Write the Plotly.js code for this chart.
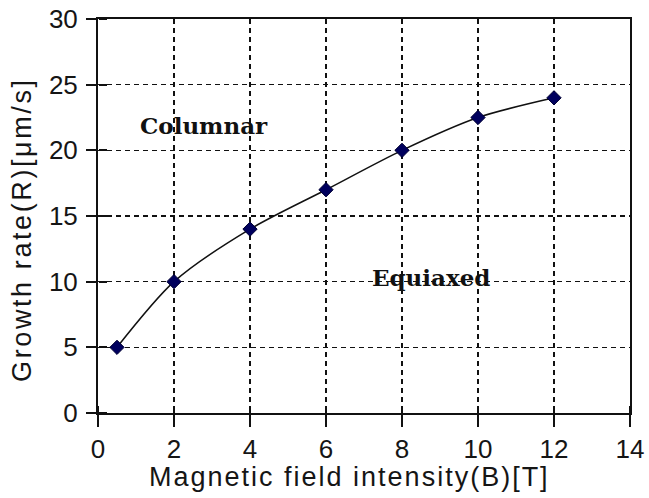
<!DOCTYPE html>
<html>
<head>
<meta charset="utf-8">
<script src="https://cdn.plot.ly/plotly-3.0.1.min.js"></script>
<style>html,body{margin:0;padding:0;background:#fff}#chart{width:649px;height:498px}</style>
</head>
<body>
<div id="chart"></div>
<script>
const fieldB = [0.5, 2, 4, 6, 8, 10, 12];
const growthR = [5, 10, 14, 17, 20, 22.5, 24];
const xTicks = [0, 2, 4, 6, 8, 10, 12, 14];
const yTicks = [0, 5, 10, 15, 20, 25, 30];
const regionLabels = ['Columnar', 'Equiaxed'];
const regionX = [2.8, 8.75];
const regionY = [21.9, 10.3];
const xTitle = 'Magnetic field intensity(B)[T]';
const yTitle = 'Growth rate(R)[μm/s]';

const tickFont = {family: 'Liberation Sans, Arial, sans-serif', size: 26, color: '#151515'};
const titleFont = {family: 'Liberation Sans, Arial, sans-serif', size: 27, color: '#151515'};

const traces = [
  {
    x: fieldB, y: growthR, type: 'scatter', mode: 'lines+markers',
    line: {shape: 'spline', smoothing: 0.8, color: '#111', width: 1.5},
    marker: {symbol: 'diamond', size: 11, color: '#00005e', line: {color: '#000033', width: 1}},
    hoverinfo: 'skip', showlegend: false
  },
  {
    x: fieldB, y: growthR, xaxis: 'x2', yaxis: 'y2', type: 'scatter', mode: 'markers',
    marker: {opacity: 0}, hoverinfo: 'skip', showlegend: false
  }
];

const layout = {
  width: 649, height: 498,
  margin: {l: 98, r: 19, t: 19, b: 85},
  paper_bgcolor: '#fff', plot_bgcolor: '#fff',
  showlegend: false,
  xaxis: {
    range: [0, 14], tickvals: xTicks, ticktext: xTicks.map(String),
    showgrid: true, gridcolor: '#111', gridwidth: 1.5, griddash: '5px,4px',
    zeroline: false, showline: true, linecolor: '#111', linewidth: 2, mirror: true,
    ticks: 'outside', ticklen: 12, tickwidth: 2, tickcolor: '#111',
    tickfont: tickFont
  },
  yaxis: {
    range: [0, 30], tickvals: yTicks, ticktext: yTicks.map(String),
    showgrid: true, gridcolor: '#111', gridwidth: 1.5, griddash: '5px,4px',
    zeroline: false, showline: true, linecolor: '#111', linewidth: 2, mirror: true,
    ticks: 'outside', ticklen: 10, tickwidth: 2, tickcolor: '#111',
    ticklabelstandoff: 3,
    tickfont: tickFont
  },
  xaxis2: {
    overlaying: 'x', anchor: 'free', position: 0, side: 'top',
    range: [0, 14], tickvals: xTicks,
    showticklabels: false, showgrid: false, zeroline: false, showline: false,
    ticks: 'outside', ticklen: 7, tickwidth: 2, tickcolor: '#111'
  },
  yaxis2: {
    overlaying: 'y', anchor: 'free', position: 0, side: 'right',
    range: [0, 30], tickvals: yTicks,
    showticklabels: false, showgrid: false, zeroline: false, showline: false,
    ticks: 'outside', ticklen: 8, tickwidth: 2, tickcolor: '#111'
  },
  annotations: regionLabels.map((t, i) => ({
    text: '<b>' + t + '</b>', x: regionX[i], y: regionY[i], xref: 'x', yref: 'y',
    showarrow: false, font: {family: 'DejaVu Serif, serif', size: 23, color: '#111'}
  })).concat([
    {
      text: '<span style="letter-spacing:2px">' + xTitle + '</span>',
      xref: 'paper', yref: 'paper', x: 0.472, y: -0.162, xanchor: 'center', yanchor: 'middle',
      showarrow: false, font: titleFont
    },
    {
      text: '<span style="letter-spacing:2.6px">' + yTitle + '</span>',
      xref: 'paper', yref: 'paper', x: -0.143, y: 0.467, xanchor: 'center', yanchor: 'middle',
      textangle: -90, showarrow: false, font: titleFont
    }
  ])
};

Plotly.newPlot('chart', traces, layout, {displayModeBar: false, staticPlot: true});
</script>
</body>
</html>
